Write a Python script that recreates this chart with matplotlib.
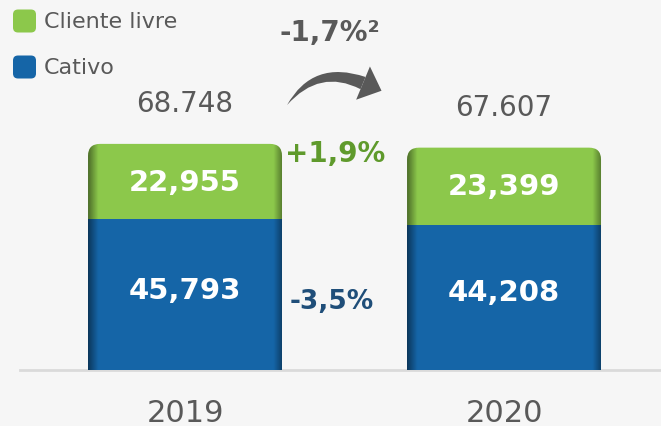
import numpy as np
import matplotlib.pyplot as plt
from matplotlib.patches import FancyBboxPatch, FancyArrowPatch, Polygon

# data
years = ["2019", "2020"]
cativo = [45.793, 44.208]
livre = [22.955, 23.399]
total_labels = ["68.748", "67.607"]
cativo_labels = ["45,793", "44,208"]
livre_labels = ["22,955", "23,399"]
var_livre = "+1,9%"
var_cativo = "-3,5%"
var_total = "-1,7%²"

GREEN = "#8cc84b"
BLUE = "#1565a7"
GRAY = "#595959"
BG = "#f6f6f6"

fig = plt.figure(figsize=(6.61, 4.27), dpi=100, facecolor=BG)
ax = fig.add_axes([0, 56 / 427, 1, 371 / 427])
ax.set_facecolor(BG)

x = [0, 1]
w = 0.608
ax.set_xlim(-0.58, 1.492)
ax.set_ylim(0, 112.8)

# px -> data: 319 px per x unit, 3.29 px per y unit
px_x = 1 / 319
px_y = 1 / 3.29
aspect = px_y / px_x
r = 12 * px_x


def to_data(px, py):
    # image pixel (y down) -> data coords
    return (px - 185) * px_x, (371 - py) * px_y


def edge_shade(patch, x0, x1, y0, y1):
    # darker rounded look on the left and right edges of a bar
    n = 200
    cols = np.linspace(0, (x1 - x0) / px_x, n)
    alpha = np.maximum(0.45 * (1 - cols / 10), 0)
    alpha += np.maximum(0.35 * (1 - (cols[-1] - cols) / 8), 0)
    img = np.zeros((1, n, 4))
    img[0, :, 3] = alpha
    im = ax.imshow(img, extent=(x0, x1, y0, y1), aspect="auto",
                   interpolation="bilinear", zorder=patch.get_zorder() + 0.5)
    im.set_clip_path(patch)


bars = ax.bar(x, cativo, w, color=BLUE, zorder=3)
for i, xi in enumerate(x):
    top = cativo[i] + livre[i]
    patch = FancyBboxPatch((xi - w / 2, cativo[i] - 6), w, top - cativo[i] + 6,
                           boxstyle=f"round,pad=0,rounding_size={r}",
                           mutation_aspect=aspect, facecolor=GREEN,
                           edgecolor="none", zorder=2)
    ax.add_patch(patch)
    edge_shade(patch, xi - w / 2, xi + w / 2, cativo[i] - 6, top)
    edge_shade(bars[i], xi - w / 2, xi + w / 2, 0, cativo[i])
    ax.text(xi, top + 12.5, total_labels[i], ha="center", va="center",
            fontsize=20, color=GRAY)
    ax.text(xi, cativo[i] + livre[i] / 2, livre_labels[i], ha="center",
            va="center", fontsize=21, fontweight="bold", color="white", zorder=5)
    ax.text(xi, cativo[i] / 2 + 1.5, cativo_labels[i], ha="center",
            va="center", fontsize=21, fontweight="bold", color="white", zorder=5)

ax.text(0.47, 66.0, var_livre, ha="center", va="center", fontsize=20,
        fontweight="bold", color="#5f9a2c")
ax.text(0.46, 21.0, var_cativo, ha="center", va="center", fontsize=19,
        fontweight="bold", color="#1f4e79")
ax.text(0.455, 102.8, var_total, ha="center", va="center", fontsize=20,
        fontweight="bold", color=GRAY)

# curved tapered arrow: wedge body from the head base back to the tail tip
tail = np.array([287.0, 106.0])
base = np.array([363.0, 84.0])
# control point of the arc (image coords, y down), bulging upwards
d = base - tail
ctrl = (tail + base) / 2 + 0.4 * np.array([d[1], -d[0]])
direc = (base - ctrl) / np.linalg.norm(base - ctrl)
perp = np.array([-direc[1], direc[0]])
tip = base + 20 * direc
body = FancyArrowPatch(to_data(*base), to_data(*tail),
                       connectionstyle="arc3,rad=0.4",
                       arrowstyle="wedge,tail_width=0.95,shrink_factor=0.6",
                       mutation_scale=10, color=GRAY, lw=0,
                       shrinkA=0, shrinkB=0)
ax.add_patch(body)
head = Polygon([to_data(*(base + 18 * perp)), to_data(*tip),
                to_data(*(base - 18 * perp))], closed=True,
               facecolor=GRAY, edgecolor="none")
ax.add_patch(head)

for s in ["top", "left", "right"]:
    ax.spines[s].set_visible(False)
ax.spines["bottom"].set_color("#dadada")
ax.spines["bottom"].set_linewidth(2)
ax.spines["bottom"].set_bounds(-0.517, 1.492)
ax.set_yticks([])
ax.set_xticks(x, years)
ax.tick_params(axis="x", length=0, pad=20, labelsize=22, labelcolor=GRAY)

# legend
legend_items = [("Cliente livre", GREEN, 22), ("Cativo", BLUE, 68)]
for name, color, py in legend_items:
    box = FancyBboxPatch((13 / 661, 1 - (py + 11.5) / 427), 23 / 661, 23 / 427,
                         boxstyle=f"round,pad=0,rounding_size={5 / 661}",
                         mutation_aspect=661 / 427, transform=fig.transFigure,
                         facecolor=color, edgecolor="none")
    fig.patches.append(box)
    fig.text(44 / 661, 1 - py / 427, name, ha="left", va="center",
             fontsize=16, color=GRAY)

fig.savefig("out.png", dpi=100, facecolor=BG)
